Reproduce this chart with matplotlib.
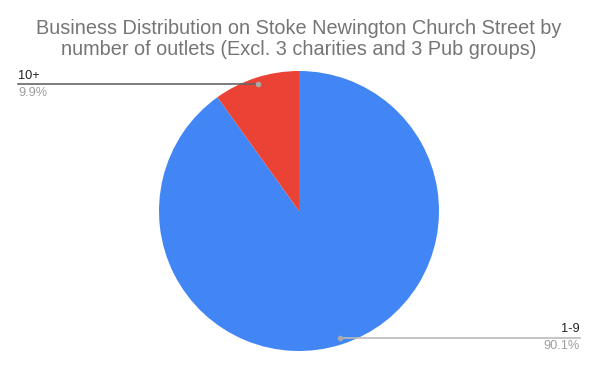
import numpy as np
import matplotlib
matplotlib.use("Agg")
import matplotlib.pyplot as plt

plt.rcParams['font.family'] = ['Liberation Sans', 'DejaVu Sans']

title = "Business Distribution on Stoke Newington Church Street by\nnumber of outlets (Excl. 3 charities and 3 Pub groups)"
categories = ["1-9", "10+"]
values = [90.1, 9.9]
colors = ["#4285F4", "#EA4335"]

W, H = 598, 370
fig = plt.figure(figsize=(W / 100, H / 100), dpi=100)
cx, cy, R = 299, 211, 140
ax = fig.add_axes([(cx - R) / W, (H - cy - R) / H, 2 * R / W, 2 * R / H])
wedges, _ = ax.pie(values, colors=colors, startangle=90, counterclock=False,
                   wedgeprops=dict(linewidth=0))
ax.set_xlim(-1, 1)
ax.set_ylim(-1, 1)
ax.set_aspect('equal')
ax.axis('off')

fig.text(0.5, 1 - 39 / H, title, ha='center', va='center', fontsize=14.3,
         color='#757575', linespacing=1.1)

def px_x(p):
    return (p - cx) / R

# label layout: (line end x in px, side, line color)
layout = {"10+": (18, 'left', '#666666'), "1-9": (580, 'right', '#bbbbbb')}
for w, cat, val in zip(wedges, categories, values):
    mid = np.deg2rad((w.theta1 + w.theta2) / 2)
    dx, dy = 0.95 * np.cos(mid), 0.95 * np.sin(mid)
    xend_px, side, lc = layout[cat]
    xe = px_x(xend_px)
    ax.plot([dx, xe], [dy, dy], color=lc, lw=1.2, clip_on=False, zorder=3)
    ax.plot([dx], [dy], 'o', color='#aaaaaa', ms=3, clip_on=False, zorder=4)
    ax.text(xe, dy + 0.02, cat, ha=side, va='bottom', fontsize=9.2, color='#222222')
    ax.text(xe, dy - 0.02, f"{val}%", ha=side, va='top', fontsize=9.2, color='#9e9e9e')

fig.savefig("out.png", dpi=100)
